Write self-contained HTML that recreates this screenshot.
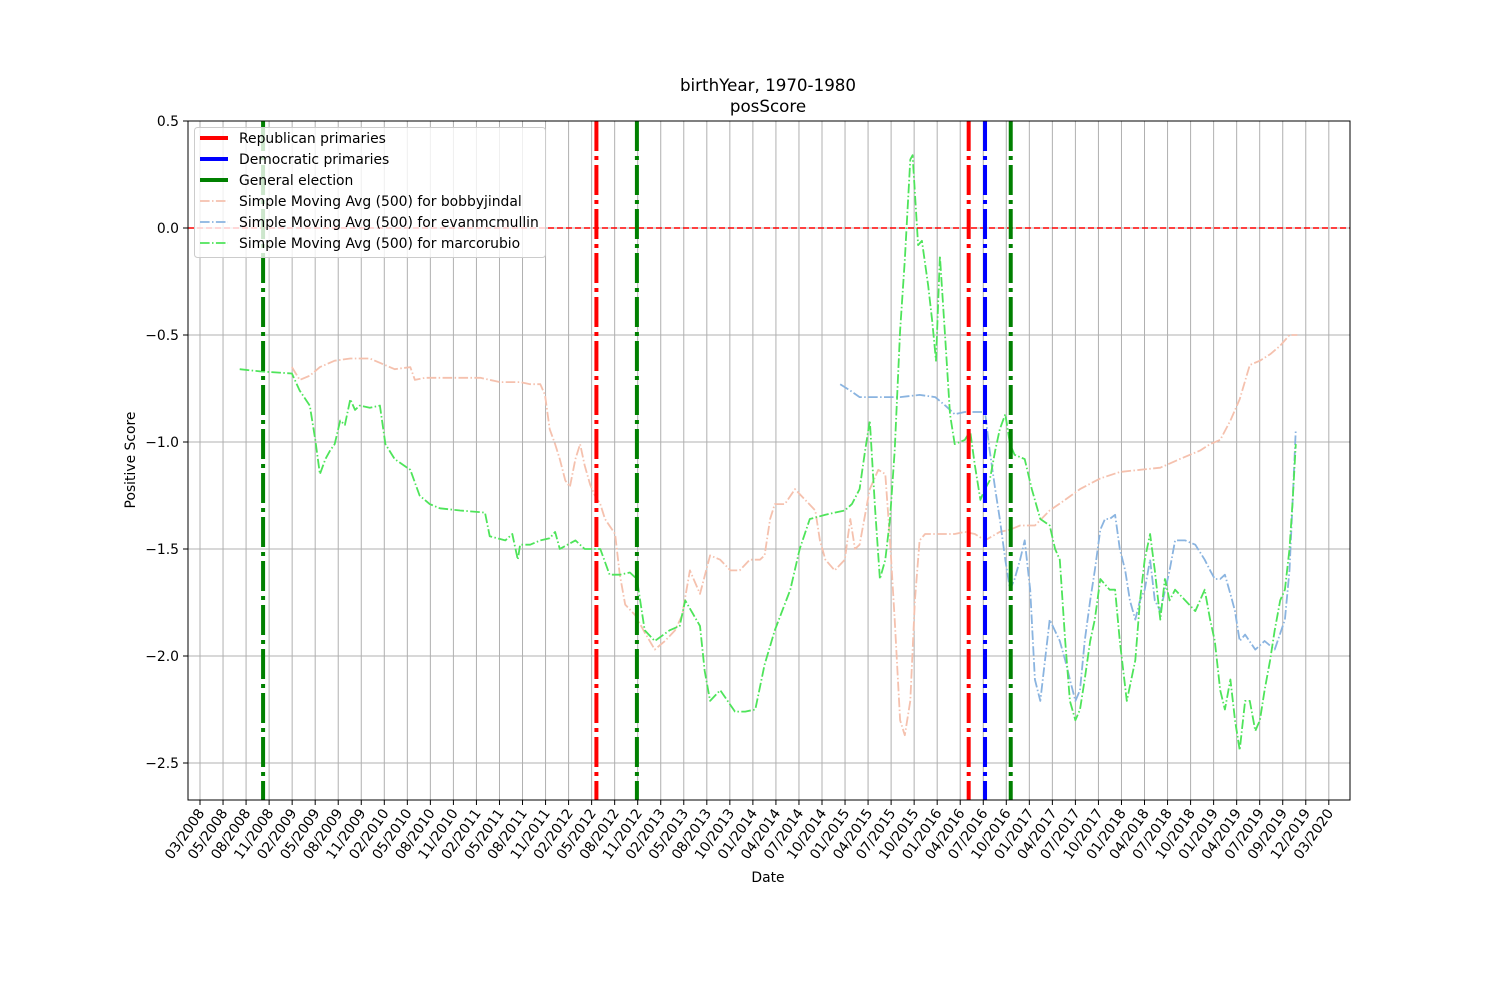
<!DOCTYPE html>
<html><head><meta charset="utf-8">
<style>
html,body{margin:0;padding:0;background:#fff;}
svg{display:block;font-family:"DejaVu Sans","Liberation Sans",sans-serif;}
</style></head>
<body>
<svg id="chart" width="1500" height="1000" viewBox="0 0 1500 1000">
<text x="768" y="91" text-anchor="middle" font-size="16.7">birthYear, 1970-1980</text>
<text x="768" y="112" text-anchor="middle" font-size="16.7">posScore</text>
<g id="grid"></g>
<g id="series"></g>
<g id="events"></g>
<rect x="188" y="121" width="1162" height="679" fill="none" stroke="#000" stroke-width="1"/>
<g id="axes"></g>
<text x="135" y="460" text-anchor="middle" font-size="13.9" transform="rotate(-90 135 460)">Positive Score</text>
<text x="768" y="882" text-anchor="middle" font-size="13.9">Date</text>
<g id="legend"></g>
</svg>
<script>
// x values: months since 03/2008
const xTickLabels = ["03/2008","05/2008","08/2008","11/2008","02/2009","05/2009","08/2009","11/2009","02/2010","05/2010","08/2010","11/2010","02/2011","05/2011","08/2011","11/2011","02/2012","05/2012","08/2012","11/2012","02/2013","05/2013","08/2013","10/2013","01/2014","04/2014","07/2014","10/2014","01/2015","04/2015","07/2015","10/2015","01/2016","04/2016","07/2016","10/2016","01/2017","04/2017","07/2017","10/2017","01/2018","04/2018","07/2018","10/2018","01/2019","04/2019","07/2019","09/2019","12/2019","03/2020"];
const yTicks = [0.5,0.0,-0.5,-1.0,-1.5,-2.0,-2.5];
const yTickLabels = ["0.5","0.0","\u22120.5","\u22121.0","\u22121.5","\u22122.0","\u22122.5"];
const republicanPrimaries = [50.9, 98.7];
const democraticPrimaries = [100.8];
const generalElections = [8.1, 56.1, 104.1];
const rubioMonths = [5.1,7.7,11.8,12.8,14.1,14.8,15.4,16.1,16.7,17.3,18.0,18.6,19.3,19.9,20.5,21.8,23.1,23.8,25.0,27.0,28.2,29.5,30.8,33.4,36.6,37.2,39.2,40.1,40.8,41.1,42.4,43.7,44.9,45.6,46.2,48.2,49.4,51.4,52.6,53.9,55.2,56.1,57.1,58.4,60.3,61.6,62.3,64.2,64.8,65.5,66.8,68.7,70.0,71.3,72.5,73.8,75.8,77.0,78.3,80.3,81.5,82.8,83.7,84.7,85.4,86.0,86.7,87.3,88.0,88.6,89.2,89.9,90.5,91.2,91.5,92.2,92.7,93.5,94.0,94.5,95.0,95.7,96.3,96.9,98.2,98.9,99.5,100.2,100.8,101.4,102.1,102.7,103.4,104.0,104.6,105.9,106.8,107.9,109.1,109.8,110.4,111.1,111.7,112.4,113.0,113.6,114.3,114.9,115.6,116.8,117.5,118.1,119.0,120.1,120.7,121.3,122.0,122.6,123.3,123.9,124.5,125.2,126.5,127.8,129.0,129.7,130.3,131.0,131.6,132.3,132.9,133.5,134.2,134.8,135.5,136.1,136.7,137.4,138.0,138.7,139.3,139.9,140.3,140.7];
const rubioScores = [-0.66,-0.67,-0.68,-0.76,-0.83,-0.99,-1.15,-1.08,-1.04,-1.01,-0.90,-0.92,-0.80,-0.85,-0.83,-0.84,-0.83,-1.01,-1.08,-1.13,-1.25,-1.29,-1.31,-1.32,-1.33,-1.44,-1.46,-1.43,-1.55,-1.48,-1.48,-1.46,-1.45,-1.42,-1.50,-1.46,-1.50,-1.50,-1.62,-1.62,-1.61,-1.64,-1.88,-1.93,-1.88,-1.86,-1.74,-1.86,-2.07,-2.21,-2.16,-2.26,-2.26,-2.25,-2.04,-1.88,-1.69,-1.50,-1.36,-1.34,-1.33,-1.32,-1.29,-1.22,-1.04,-0.90,-1.32,-1.64,-1.55,-1.36,-1.04,-0.48,-0.15,0.32,0.34,-0.08,-0.06,-0.27,-0.43,-0.62,-0.13,-0.52,-0.87,-1.01,-0.99,-0.95,-1.11,-1.27,-1.22,-1.18,-1.04,-0.94,-0.87,-1.01,-1.06,-1.08,-1.22,-1.36,-1.39,-1.50,-1.55,-1.93,-2.21,-2.30,-2.25,-2.11,-1.93,-1.83,-1.64,-1.69,-1.69,-1.93,-2.21,-2.02,-1.74,-1.55,-1.43,-1.60,-1.83,-1.64,-1.74,-1.69,-1.74,-1.79,-1.69,-1.83,-1.93,-2.16,-2.25,-2.11,-2.30,-2.44,-2.21,-2.21,-2.35,-2.30,-2.16,-2.02,-1.88,-1.74,-1.69,-1.50,-1.27,-1.01];
const jindalMonths = [11.8,12.8,14.1,15.4,17.3,19.3,21.8,23.1,25.0,27.0,27.6,28.9,30.8,33.4,36.0,38.5,41.1,42.4,43.7,44.3,44.9,45.6,46.2,46.9,47.5,48.2,48.8,49.4,50.1,50.7,51.4,52.0,53.3,53.9,54.6,55.9,57.1,58.4,59.7,61.0,61.9,62.9,64.2,65.5,66.8,68.1,69.3,70.6,71.9,72.5,73.2,73.8,75.1,76.4,77.7,79.0,79.6,80.3,81.5,82.8,83.5,84.1,84.7,86.0,87.1,88.0,88.6,89.2,89.9,90.5,91.2,91.8,92.4,93.1,95.0,96.9,98.2,99.5,100.8,102.7,104.0,105.3,107.2,109.1,111.1,113.0,115.6,118.1,120.7,123.3,125.8,128.4,129.7,131.0,132.3,133.5,134.8,136.1,137.4,138.7,139.9,140.9];
const jindalScores = [-0.65,-0.71,-0.69,-0.65,-0.62,-0.61,-0.61,-0.63,-0.66,-0.65,-0.71,-0.70,-0.70,-0.70,-0.70,-0.72,-0.72,-0.73,-0.73,-0.78,-0.94,-1.01,-1.08,-1.18,-1.21,-1.08,-1.01,-1.11,-1.20,-1.25,-1.29,-1.36,-1.43,-1.62,-1.76,-1.81,-1.89,-1.97,-1.93,-1.88,-1.81,-1.60,-1.71,-1.53,-1.55,-1.60,-1.60,-1.55,-1.55,-1.53,-1.36,-1.29,-1.29,-1.22,-1.27,-1.32,-1.46,-1.55,-1.60,-1.55,-1.36,-1.50,-1.48,-1.22,-1.13,-1.15,-1.46,-1.83,-2.30,-2.37,-2.21,-1.74,-1.46,-1.43,-1.43,-1.43,-1.42,-1.43,-1.46,-1.42,-1.41,-1.39,-1.39,-1.32,-1.27,-1.22,-1.17,-1.14,-1.13,-1.12,-1.08,-1.04,-1.01,-0.99,-0.90,-0.80,-0.64,-0.62,-0.59,-0.55,-0.50,-0.50];
const mcmullinMonths = [82.2,83.5,84.7,87.3,89.9,92.4,94.4,95.7,96.9,98.2,99.5,100.8,101.4,102.1,102.7,103.4,104.0,104.6,105.3,105.9,106.6,107.2,107.9,108.5,109.1,110.4,111.1,111.7,112.4,113.0,113.6,114.3,114.9,115.6,116.2,116.8,117.5,118.1,118.8,119.4,120.1,120.7,121.3,122.0,122.6,123.3,124.5,125.2,126.5,127.8,129.0,129.7,130.3,131.0,131.6,132.3,132.9,133.5,134.2,135.5,136.7,138.0,139.3,139.9,140.3,140.7];
const mcmullinScores = [-0.73,-0.76,-0.79,-0.79,-0.79,-0.78,-0.79,-0.83,-0.87,-0.86,-0.86,-0.86,-1.04,-1.22,-1.36,-1.55,-1.69,-1.64,-1.55,-1.46,-1.69,-2.11,-2.21,-2.02,-1.83,-1.93,-2.02,-2.11,-2.21,-2.16,-1.93,-1.74,-1.60,-1.41,-1.36,-1.36,-1.34,-1.50,-1.60,-1.74,-1.83,-1.74,-1.69,-1.55,-1.74,-1.79,-1.60,-1.46,-1.46,-1.48,-1.55,-1.60,-1.64,-1.64,-1.62,-1.71,-1.79,-1.93,-1.90,-1.97,-1.93,-1.97,-1.83,-1.60,-1.27,-0.94];

const NS = "http://www.w3.org/2000/svg";
const X0 = 200, PX_PER_MONTH = 7.788, Y0 = 228, PX_PER_UNIT = 214;
const TICK_STEP_MONTHS = 2.958;
function xs(m){ return X0 + m * PX_PER_MONTH; }
function ys(v){ return Y0 - v * PX_PER_UNIT; }
function mk(tag, attrs, parent){ const e = document.createElementNS(NS, tag); for (const k in attrs) e.setAttribute(k, attrs[k]); parent.appendChild(e); return e; }

const grid = document.getElementById('grid');
const axes = document.getElementById('axes');
xTickLabels.forEach((lab, i) => {
  const x = xs(i * TICK_STEP_MONTHS);
  const gl = mk('line', {x1:x, x2:x, y1:121, y2:800, stroke:'#b0b0b0', 'stroke-width':1}, grid);
  
  
  const tk = mk('line', {x1:x, x2:x, y1:800, y2:805, stroke:'#000', 'stroke-width':1}, axes);
  
  
  const t = mk('text', {x:x+5, y:813, 'text-anchor':'end', 'font-size':13.9, transform:'rotate(-55 '+(x+5)+' 813)'}, axes);
  t.textContent = lab;
  
  
});
yTicks.forEach((v, i) => {
  const y = ys(v);
  const gl = mk('line', {x1:188, x2:1350, y1:y, y2:y, stroke:'#b0b0b0', 'stroke-width':1}, grid);
  
  
  const tk = mk('line', {x1:183, x2:188, y1:y, y2:y, stroke:'#000', 'stroke-width':1}, axes);
  
  
  const t = mk('text', {x:179, y:y+5, 'text-anchor':'end', 'font-size':13.9}, axes);
  t.textContent = yTickLabels[i];
  
  
});

const series = document.getElementById('series');
function drawSeries(months, scores, color, name){
  const d = months.map((m, i) => (i ? 'L' : 'M') + xs(m).toFixed(1) + ' ' + ys(scores[i]).toFixed(1)).join(' ');
  const p = mk('path', {d:d, fill:'none', stroke:color, 'stroke-width':1.8, 'stroke-dasharray':'9.6 2.4 1.5 2.4', 'stroke-linejoin':'round'}, series);
  
  
}
drawSeries(jindalMonths, jindalScores, '#f5c1ae', 'bobbyjindal-line');
drawSeries(mcmullinMonths, mcmullinScores, '#8ab4e0', 'evanmcmullin-line');
drawSeries(rubioMonths, rubioScores, '#4ee45a', 'marcorubio-line');

const zl = mk('line', {x1:188, x2:1350, y1:ys(0), y2:ys(0), stroke:'#ff0000', 'stroke-width':1.5, 'stroke-dasharray':'6 3'}, series);



const events = document.getElementById('events');
function drawEvents(arr, color, name){
  arr.forEach(m => {
    const l = mk('line', {x1:xs(m), x2:xs(m), y1:121, y2:800, stroke:color, 'stroke-width':4, 'stroke-dasharray':'30 5 4 5'}, events);
    
    
  });
}
drawEvents(republicanPrimaries, '#ff0000', 'republican-primary-line');
drawEvents(democraticPrimaries, '#0000ff', 'democratic-primary-line');
drawEvents(generalElections, '#008000', 'general-election-line');

const legend = document.getElementById('legend');
const lb = mk('rect', {x:194.5, y:127.5, width:351, height:130, rx:3, fill:'#fff', 'fill-opacity':0.8, stroke:'#cccccc', 'stroke-width':1}, legend);


const legendLabels = ["Republican primaries","Democratic primaries","General election","Simple Moving Avg (500) for bobbyjindal","Simple Moving Avg (500) for evanmcmullin","Simple Moving Avg (500) for marcorubio"];
const legendColors = ['#ff0000','#0000ff','#008000','#f5c1ae','#8ab4e0','#4ee45a'];
legendLabels.forEach((lab, i) => {
  const y = 138 + i * 21;
  const thick = i < 3;
  const ln = mk('line', {x1:200, x2:228, y1:y, y2:y, stroke:legendColors[i], 'stroke-width': thick ? 4 : 1.8}, legend);
  if (!thick) ln.setAttribute('stroke-dasharray', '9.6 2.4 1.5 2.4');
  
  
  const t = mk('text', {x:239, y:y+5, 'font-size':13.9}, legend);
  t.textContent = lab;
  
  
});
</script>
</body></html>
